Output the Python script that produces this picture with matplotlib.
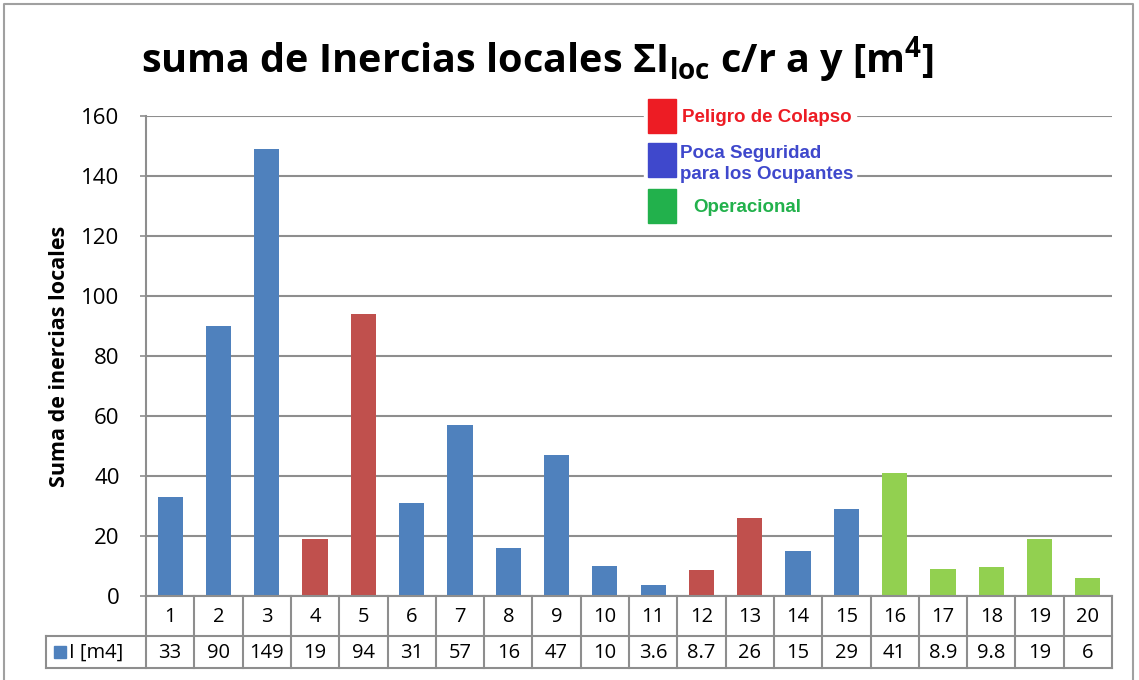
import matplotlib
matplotlib.use('Agg')
import matplotlib.pyplot as plt
from matplotlib.patches import Rectangle

# datos
categorias = [str(i) for i in range(1, 21)]
inercias = [33, 90, 149, 19, 94, 31, 57, 16, 47, 10, 3.6, 8.7, 26, 15, 29, 41, 8.9, 9.8, 19, 6]
estado = ['p', 'p', 'p', 'c', 'c', 'p', 'p', 'p', 'p', 'p',
          'p', 'c', 'c', 'p', 'p', 'o', 'o', 'o', 'o', 'o']
y_ticks = [0, 20, 40, 60, 80, 100, 120, 140, 160]
serie = 'I [m4]'
leyenda = [('c', 'Peligro de Colapso'),
           ('p', 'Poca Seguridad\npara los Ocupantes'),
           ('o', 'Operacional')]

color_barra = {'c': '#C0504D', 'p': '#4F81BD', 'o': '#92D050'}
color_ley = {'c': '#ED1C24', 'p': '#3F48CC', 'o': '#22B14C'}
gris = '#8E8E8E'

plt.rcParams['font.family'] = ['Open Sans', 'DejaVu Sans']
plt.rcParams['mathtext.fontset'] = 'custom'
plt.rcParams['mathtext.rm'] = 'Open Sans:bold'
plt.rcParams['mathtext.bf'] = 'Open Sans:bold'

W, H = 1139, 680
fig = plt.figure(figsize=(W / 100, H / 100), dpi=100)

# ejes principales (pixeles: x 146-1112, y 116-596)
x0, x1, yt, yb = 146, 1112, 116, 596
ax = fig.add_axes([x0 / W, 1 - yb / H, (x1 - x0) / W, (yb - yt) / H])
xs = list(range(len(inercias)))
ax.bar(xs, inercias, width=0.52, color=[color_barra[e] for e in estado], zorder=3)
ax.set_xlim(-0.5, len(inercias) - 0.5)
ax.set_ylim(0, 160)
ax.set_yticks(y_ticks)
ax.set_yticklabels([str(t) for t in y_ticks], fontsize=16)
ax.set_xticks([])
ax.grid(axis='y', color=gris, linewidth=1.5, zorder=0)
for s in ['top', 'right', 'bottom']:
    ax.spines[s].set_visible(False)
ax.spines['left'].set_color(gris)
ax.spines['left'].set_linewidth(1.5)
ax.tick_params(axis='y', length=4, width=1.2, color=gris, pad=15)
ax.set_ylabel('Suma de inercias locales', fontsize=15.5, fontweight='bold')
ax.yaxis.set_label_coords(-76 / (x1 - x0), 0.5)

# capa en pixeles para marco, tabla y leyenda
ov = fig.add_axes([0, 0, 1, 1], zorder=5)
ov.set_xlim(0, W)
ov.set_ylim(H, 0)
ov.axis('off')
ov.patch.set_alpha(0)

# marco exterior
ov.plot([4, 4, 1133, 1133], [700, 4, 4, 700], color='#A0A0A0', lw=1.5)

# titulo
ov.text(538, 60, r'suma de Inercias locales ΣI$_{\mathrm{loc}}$ c/r a y [m$^{\mathrm{4}}$]',
        fontsize=28.5, fontweight='bold', ha='center', va='center')

# tabla de datos
r0, r1, r2 = 596, 636, 668
cw = (x1 - x0) / len(inercias)
ov.plot([x0, x1], [r0, r0], color=gris, lw=1.5)
ov.plot([46, x1], [r1, r1], color=gris, lw=1.5)
ov.plot([46, x1], [r2, r2], color=gris, lw=1.5)
ov.plot([46, 46], [r1, r2], color=gris, lw=1.5)
for i in range(len(inercias) + 1):
    xx = x0 + i * cw
    ov.plot([xx, xx], [r0, r2], color=gris, lw=1.5)
for i, (c, v) in enumerate(zip(categorias, inercias)):
    xc = x0 + (i + 0.5) * cw
    ov.text(xc, (r0 + r1) / 2 + 1, c, fontsize=14.5, ha='center', va='center')
    ov.text(xc, (r1 + r2) / 2 + 1, f'{v:g}', fontsize=14.5, ha='center', va='center')
ov.add_patch(Rectangle((54, 646), 12, 12, color=color_barra['p']))
ov.text(69, (r1 + r2) / 2 + 1, serie, fontsize=14.5, ha='left', va='center')

# leyenda
ov.add_patch(Rectangle((644, 98), 212, 134, color='white', zorder=1))
ys = [99, 143, 189]
xt = [682, 680, 693]
yt_txt = [118, 164, 208]
for (k, txt), yy, xx, ty in zip(leyenda, ys, xt, yt_txt):
    ov.add_patch(Rectangle((648, yy), 28, 34, color=color_ley[k], zorder=2))
    ov.text(xx, ty, txt, fontsize=13.5, fontweight='bold', color=color_ley[k],
            family='Liberation Sans', ha='left', va='center', linespacing=1.25, zorder=3)

fig.savefig('out.png', dpi=100)
